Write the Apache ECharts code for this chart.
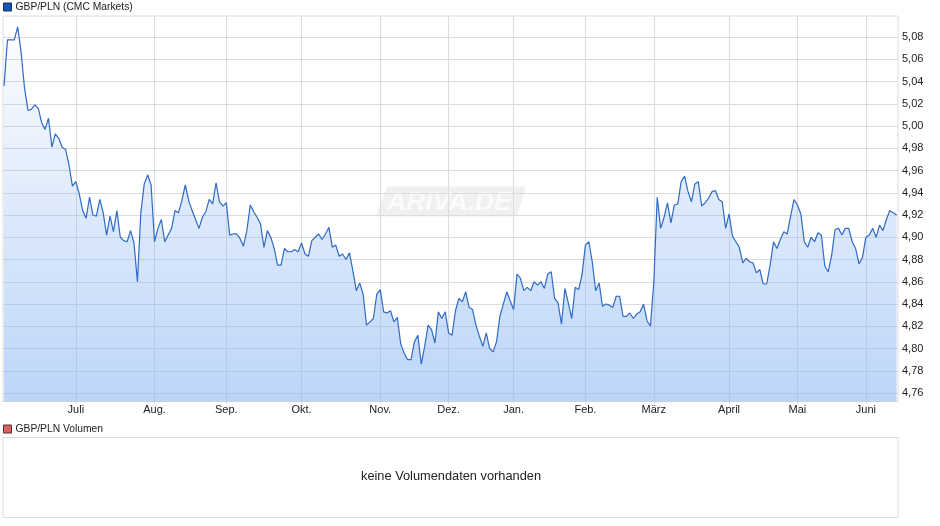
<!DOCTYPE html>
<html>
<head>
<meta charset="utf-8">
<title>GBP/PLN</title>
<script src="https://cdn.jsdelivr.net/npm/echarts@6/dist/echarts.min.js"></script>
<style>
html,body{margin:0;padding:0;background:#fff}
#chart{width:940px;height:526px}
</style>
</head>
<body>
<div id="chart"></div>
<script>
var prices = [
5.036,5.0775,5.0775,5.0775,5.089,5.066,5.034,5.014,5.015,5.019,
5.016,5.003,4.997,5.007,4.981,4.993,4.989,4.981,4.979,4.965,
4.946,4.950,4.939,4.924,4.917,4.936,4.920,4.919,4.934,4.922,
4.902,4.919,4.905,4.924,4.900,4.897,4.896,4.906,4.895,4.860,
4.922,4.948,4.956,4.947,4.896,4.908,4.916,4.896,4.902,4.908,
4.924,4.922,4.933,4.947,4.933,4.924,4.916,4.908,4.918,4.923,
4.934,4.930,4.949,4.932,4.928,4.931,4.902,4.903,4.903,4.899,
4.892,4.906,4.929,4.923,4.918,4.912,4.891,4.906,4.900,4.890,
4.875,4.875,4.890,4.887,4.887,4.889,4.887,4.895,4.885,4.883,
4.897,4.900,4.903,4.898,4.903,4.909,4.891,4.893,4.883,4.885,
4.880,4.886,4.870,4.852,4.859,4.849,4.821,4.824,4.827,4.849,
4.853,4.833,4.832,4.834,4.824,4.828,4.804,4.796,4.790,4.790,
4.806,4.812,4.786,4.802,4.821,4.817,4.805,4.833,4.827,4.833,
4.814,4.812,4.834,4.845,4.842,4.851,4.837,4.835,4.821,4.811,
4.802,4.814,4.800,4.797,4.806,4.829,4.840,4.851,4.843,4.835,
4.867,4.863,4.852,4.855,4.852,4.860,4.857,4.860,4.854,4.867,
4.869,4.845,4.841,4.822,4.854,4.841,4.827,4.855,4.853,4.866,
4.893,4.896,4.878,4.852,4.859,4.838,4.840,4.839,4.837,4.847,
4.847,4.829,4.829,4.832,4.827,4.831,4.833,4.840,4.825,4.820,
4.860,4.936,4.908,4.918,4.931,4.913,4.929,4.930,4.950,4.955,
4.941,4.932,4.948,4.950,4.928,4.931,4.935,4.941,4.942,4.934,
4.932,4.908,4.921,4.901,4.896,4.891,4.877,4.881,4.878,4.877,
4.868,4.871,4.858,4.858,4.875,4.896,4.890,4.898,4.905,4.903,
4.919,4.934,4.929,4.921,4.896,4.891,4.900,4.896,4.904,4.902,
4.874,4.869,4.884,4.907,4.908,4.902,4.908,4.908,4.896,4.890,
4.876,4.882,4.900,4.902,4.908,4.900,4.911,4.906,4.916,4.924,
4.922,4.920
];
var monthLabels = ['Juli','Aug.','Sep.','Okt.','Nov.','Dez.','Jan.','Feb.','März','April','Mai','Juni'];
var monthIndex = [21,44,65,87,110,130,149,170,190,212,232,252];
var priceTicks = [4.76,4.78,4.80,4.82,4.84,4.86,4.88,4.90,4.92,4.94,4.96,4.98,5.00,5.02,5.04,5.06,5.08];
var priceName = 'GBP/PLN (CMC Markets)';
var volumeName = 'GBP/PLN Volumen';
var volumeValues = [];
var noVolumeText = 'keine Volumendaten vorhanden';

var fontName = '"Liberation Sans", Arial, sans-serif';
var gridColor = '#dcdcdc';
var textColor = '#222';

var lineData = [];
for(var i=0;i<prices.length;i++)
{
	lineData.push([i,prices[i]]);
}

var myChart = echarts.init(document.getElementById('chart'),null,{renderer:'canvas'});
var option = {
	animation:false,
	backgroundColor:'#fff',
	textStyle:{fontFamily:fontName},
	legend:[
		{left:0,top:-3,padding:[5,3],itemWidth:8,itemHeight:8,icon:'rect',data:[priceName],
			itemStyle:{borderColor:'#1b2f57',borderWidth:1},
			textStyle:{fontSize:10.3,color:textColor,fontFamily:fontName,padding:[0,0,0,-1]},itemGap:0,selectedMode:false},
		{left:0,top:419,padding:[5,3],itemWidth:8,itemHeight:8,icon:'rect',data:[volumeName],
			itemStyle:{borderColor:'#5a2c2c',borderWidth:1},
			textStyle:{fontSize:10.3,color:textColor,fontFamily:fontName,padding:[0,0,0,-1]},itemGap:0,selectedMode:false}
	],
	grid:[
		{left:3,top:16,width:895,height:385.5,show:true,borderColor:gridColor,borderWidth:1,backgroundColor:'transparent'},
		{left:3,top:437.5,width:895,height:80,show:true,borderColor:gridColor,borderWidth:1,backgroundColor:'transparent'}
	],
	xAxis:[
		{
			type:'value',gridIndex:0,min:-0.3,max:261.4,
			axisLine:{show:true,lineStyle:{color:gridColor}},
			axisTick:{show:true,length:2,customValues:monthIndex,lineStyle:{color:gridColor}},
			splitLine:{show:true,lineStyle:{color:gridColor,width:1}},
			axisLabel:{
				customValues:monthIndex,fontSize:11,color:textColor,margin:3,
				formatter:function(v){return monthLabels[monthIndex.indexOf(v)];}
			}
		},
		{type:'value',gridIndex:1,min:0,max:1,show:false}
	],
	yAxis:[
		{
			type:'value',gridIndex:0,position:'right',min:4.7524,max:5.0989,
			axisLine:{show:false},
			axisTick:{show:false,customValues:priceTicks},
			splitLine:{show:true,lineStyle:{color:gridColor,width:1}},
			axisLabel:{
				customValues:priceTicks,fontSize:11,color:textColor,margin:4,padding:[3,0,0,0],
				formatter:function(v){return v.toFixed(2).replace('.',',');}
			}
		},
		{type:'value',gridIndex:1,min:0,max:1,show:false}
	],
	series:[
		{
			name:priceName,type:'line',xAxisIndex:0,yAxisIndex:0,data:lineData,
			showSymbol:false,symbol:'none',smooth:false,
			itemStyle:{color:'#1a56b8'},
			lineStyle:{color:'#2f6ac6',width:1.2},
			areaStyle:{
				origin:'start',opacity:1,
				color:new echarts.graphic.LinearGradient(0,0,0,1,[
					{offset:0,color:'rgba(134,179,243,0.02)'},
					{offset:1,color:'rgba(134,179,243,0.55)'}
				])
			},
			z:3
		},
		{
			name:volumeName,type:'bar',xAxisIndex:1,yAxisIndex:1,data:volumeValues,
			itemStyle:{color:'#d96464'}
		}
	],
	graphic:[
		{
			type:'polygon',z:-1,silent:true,
			shape:{points:[[388,188],[524,188],[516,215],[378,215]]},
			style:{fill:'#f0f0f0',stroke:'#f0f0f0',lineWidth:3,lineJoin:'round'}
		},
		{
			type:'text',z:-1,silent:true,left:387,top:189,
			style:{text:'ARIVA.DE',fill:'#fbfbfb',font:'italic bold 26.5px "Liberation Sans", Arial, sans-serif'}
		},
		{
			type:'text',silent:true,left:361,top:470,
			style:{text:noVolumeText,fill:textColor,font:'12.8px "Liberation Sans", Arial, sans-serif'}
		}
	]
};
myChart.setOption(option);
</script>
</body>
</html>
